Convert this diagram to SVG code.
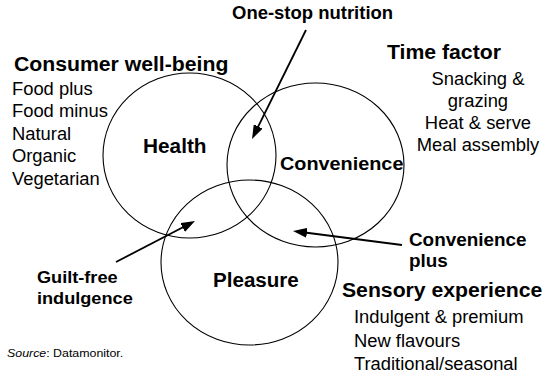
<svg xmlns="http://www.w3.org/2000/svg" width="542" height="378" viewBox="0 0 542 378">
<defs>
<style>
.c{fill:none;stroke:#000;stroke-width:1.1}
.a{fill:none;stroke:#000;stroke-width:1.8;marker-end:url(#ah)}
text{font-family:"Liberation Sans",Arial,Helvetica,sans-serif;fill:#000}
.h{font-weight:bold;font-size:20.2px}
.l{font-weight:bold;font-size:17.6px}
.n{font-size:17.5px}
.s{font-size:11.8px}
</style>
<marker id="ah" markerUnits="userSpaceOnUse" viewBox="0 0 14 10" markerWidth="14" markerHeight="10" refX="8" refY="5" orient="auto">
<path d="M0,0 L14,5 L0,10 z" fill="#000"/>
</marker>
</defs>
<rect width="542" height="378" fill="#fff"/>
<g id="health"><ellipse class="c" cx="189.5" cy="155.5" rx="86.5" ry="82.5"/></g>
<g id="convenience"><ellipse class="c" cx="315.5" cy="165" rx="88.5" ry="82"/></g>
<g id="pleasure"><ellipse class="c" cx="249.5" cy="262.5" rx="88.5" ry="82.5"/></g>
<g id="connectors">
<path class="a" d="M306,30 L254.7,133.6"/>
<path class="a" d="M116,262 L189.7,223.8"/>
<path class="a" d="M402,245 L298.95,231.76"/>
</g>
<g transform="scale(1.05 1)">
<g id="one-stop"><text class="l" x="221" y="19">One-stop nutrition</text></g>
<g id="consumer"><text class="h" x="13.3" y="71">Consumer well-being</text>
<text class="n" x="11.4" y="95">Food plus</text>
<text class="n" x="11.4" y="117">Food minus</text>
<text class="n" x="11.4" y="140">Natural</text>
<text class="n" x="11.4" y="162">Organic</text>
<text class="n" x="11.4" y="185">Vegetarian</text></g>
<g id="time"><text class="h" x="368.6" y="59">Time factor</text>
<g text-anchor="middle">
<text class="n" x="455.2" y="85">Snacking &amp;</text>
<text class="n" x="455.2" y="107">grazing</text>
<text class="n" x="455.2" y="129">Heat &amp; serve</text>
<text class="n" x="455.2" y="151">Meal assembly</text></g></g>
<g id="health-label"><text class="h" x="136.2" y="153" style="font-size:19.8px">Health</text></g>
<g id="convenience-label"><text class="h" x="266.7" y="170" style="font-size:18.9px">Convenience</text></g>
<g id="pleasure-label"><text class="h" x="202.9" y="287" style="font-size:19.6px">Pleasure</text></g>
<g id="guilt-free"><text class="l" x="35.2" y="283" style="font-size:17.3px">Guilt-free</text>
<text class="l" x="35.2" y="304" style="font-size:17.3px">indulgence</text></g>
<g id="convenience-plus"><text class="l" x="389.5" y="246" style="font-size:18px">Convenience</text>
<text class="l" x="389.5" y="267" style="font-size:18px">plus</text></g>
<g id="sensory"><text class="h" x="325.7" y="297">Sensory experience</text>
<text class="n" x="337.1" y="323">Indulgent &amp; premium</text>
<text class="n" x="337.1" y="347">New flavours</text>
<text class="n" x="337.1" y="370">Traditional/seasonal</text></g>
<g id="source"><text class="s" x="6.7" y="357"><tspan font-style="italic">Source</tspan>: Datamonitor.</text></g>
</g>
</svg>
